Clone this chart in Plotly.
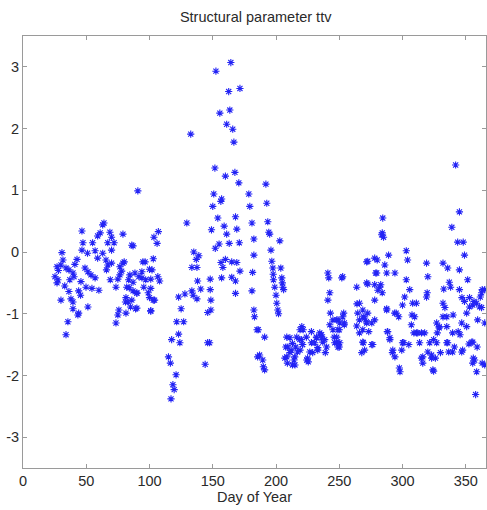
import plotly.graph_objects as go

# Day-of-year and structural parameter ttv values
days_a = [46.6, 63, 61, 59, 68.7, 70, 79, 55, 47.4, 67, 72, 86, 30.8, 46.6, 51, 57, 63, 70,
          31.6, 42.7, 59, 65.6, 67, 70, 79, 80, 26.9, 30, 34, 36.3, 39.5, 40.3, 49, 51.3,
          53.7, 57, 78, 76.6, 75, 84.5, 88.5, 25.3, 27.6, 26.9, 37, 45.8, 49.8, 54.5, 60,
          73.5, 82, 44, 36.3, 30, 37.9, 39.5, 51.3, 81.4, 83, 39.5, 44, 43.4, 75.8, 75,
          81.4, 73.5, 35.5, 34, 90.8, 87, 107, 103.5, 106, 94.8, 103, 102, 106.6, 108,
          91.6, 94, 87, 83.5, 84, 90, 99, 100, 104, 86, 81, 85, 90, 101, 89, 95.5, 101,
          100, 94, 97, 101, 87, 90, 66, 69, 76.6, 64, 96.5, 103, 101, 28, 33, 41, 45.5]
vals_a = [0.34, 0.44, 0.31, 0.26, 0.32, 0.24, 0.29, 0.15, 0.15, 0.15, 0.15, 0.11, -0.01, 0.03,
          -0.02, 0.02, -0.02, 0.03, -0.13, -0.12, -0.1, -0.13, -0.21, -0.18, -0.18, -0.16,
          -0.24, -0.21, -0.26, -0.29, -0.34, -0.4, -0.26, -0.32, -0.37, -0.42, -0.31, -0.37,
          -0.44, -0.37, -0.34, -0.4, -0.45, -0.5, -0.45, -0.48, -0.57, -0.59, -0.62, -0.57,
          -0.57, -0.63, -0.64, -0.78, -0.76, -0.81, -0.89, -0.74, -0.81, -0.92, -0.99, -1.02,
          -0.94, -1.02, -0.99, -1.15, -1.13, -1.34, 0.99, 0.1, 0.33, 0.24, 0.14, -0.16, -0.11,
          -0.29, -0.4, -0.47, -0.4, -0.42, -0.49, -0.45, -0.58, -0.66, -0.66, -0.74, -0.78,
          -0.78, -0.81, -0.89, -0.91, -0.95, -0.92, -0.57, -0.59, -0.28, -0.32, -0.45, -0.44,
          -0.63, -0.67, -0.29, -0.45, -0.24, 0.47, -0.16, -0.78, -0.96, -0.3, -0.55, -0.2, -0.7]

days_b = [132.6, 129.5, 115, 116.5, 117, 118.5, 119.5, 121, 117.5, 121.5, 123, 124, 127, 125,
          123, 128, 133.5, 134.5, 133.5, 137.5, 135, 139, 137, 138, 137.5, 140.5, 144, 146,
          147.5, 146, 148.5, 148.5, 148, 148, 149, 150, 150.8, 151.7, 152.5, 152, 154, 155,
          155.6, 156.4, 157, 156.5, 157, 158, 159, 160, 160, 161, 161, 162.6, 163, 163.5,
          164.3, 165, 165, 165.8, 166.7, 167.5, 168, 168, 168, 169, 169, 170.6, 171, 171.5,
          171.5, 178.5, 179.3, 181, 182.5, 182.5, 181.5, 181, 182.5, 183, 185, 185.5, 186,
          187, 189.5, 190, 191, 191]
vals_b = [1.91, 0.47, -1.7, -1.8, -2.38, -2.15, -2.23, -1.99, -1.42, -1.13, -1.33, -1.47, -1.13,
          -0.92, -0.73, -0.68, -0.63, -0.7, -0.25, -0.25, 0.0, -0.06, -0.12, -0.47, -0.76, -0.6,
          -1.82, -1.47, -1.47, -0.98, -0.94, -0.78, -0.61, -0.44, 0.36, 0.74, 0.94, 1.36, 2.93,
          0.06, 0.55, 0.13, 2.25, 0.82, 0.86, -0.17, -0.42, -0.25, 0.42, 1.23, -0.12, 2.07,
          0.29, 2.6, 0.14, 2.3, 3.07, -0.16, -0.41, 1.99, 1.78, 1.29, 0.57, -0.47, -0.67, 0.37,
          -0.17, 1.12, 0.15, 2.65, -0.31, 0.94, 0.74, 0.47, 0.21, -0.05, -0.33, -0.63, -0.94,
          -1.05, -1.26, -1.7, -1.26, -1.67, -1.75, -1.86, -1.91, -1.38]

days_c = [192, 192.7, 193.5, 194.3, 195, 203, 196, 196.7, 197.5, 197.8, 198, 199, 200, 200.6,
          201.4, 202, 203.8, 204.6, 205, 205.4, 206]
vals_c = [1.1, 0.79, 0.49, 0.32, 0.29, 0.18, 0.03, -0.15, -0.26, -0.36, -0.45, -0.57, -0.7,
          -0.83, -0.94, -1.0, -0.26, -0.42, -0.5, -0.57, -0.61]

days_d = [208.5, 207.8, 207, 209, 212, 213, 214.8, 215, 219, 220, 219, 221, 224, 225, 228, 228,
          229, 232, 233, 236, 237, 239, 241, 241.7, 242.5, 241, 243, 242.5, 245, 246, 249, 250,
          248, 250, 252.7, 253.5, 254, 252, 245, 248, 250.4, 252.8, 254, 249, 248, 250.4, 249,
          246.4, 240, 234.6, 236, 238.5, 232, 230.6, 233, 226.7, 224.3, 225.5, 220.4, 221.5,
          218.8, 221, 217, 214.2, 213, 211, 208.5, 211, 209.3, 215.6, 216.4]
vals_d = [-1.38, -1.54, -1.72, -1.8, -1.59, -1.48, -1.7, -1.83, -1.26, -1.42, -1.59, -1.5, -1.38,
          -1.72, -1.29, -1.47, -1.63, -1.39, -1.55, -1.34, -1.46, -1.63, -0.34, -0.42, -0.66,
          -0.78, -0.99, -1.18, -1.26, -1.38, -1.1, -1.26, -1.46, -1.54, -0.4, -0.99, -1.18,
          -0.42, -1.1, -1.1, -1.15, -1.05, -1.15, -1.26, -1.38, -1.47, -1.54, -1.47, -1.54,
          -1.31, -1.39, -1.42, -1.38, -1.47, -1.59, -1.62, -1.75, -1.78, -1.21, -1.26, -1.42,
          -1.5, -1.62, -1.75, -1.83, -1.63, -1.7, -1.39, -1.54, -1.54, -1.38]

days_e = [263.8, 272.5, 278, 280, 272.5, 264, 264.6, 263.8, 266, 269, 271.5, 269, 267.8, 275.7,
          278, 279.6, 282, 284, 284.4, 284, 285, 283.5, 287.5, 289, 288, 290, 292, 294, 295,
          298, 300, 271.7, 286, 278.8, 287.5, 271.7, 278, 282.8, 287.5, 293.8, 297, 300, 270,
          268.6, 268.6, 270, 268.6, 272.5, 271.7, 273.3, 275.7, 278, 266, 266, 276.5, 290,
          288.3, 292.3, 294, 297.5, 299.4, 280.5]
vals_e = [-0.57, -0.15, -0.1, -0.13, -0.52, -0.84, -0.99, -1.2, -1.31, -1.05, -1.13, -1.47,
          -1.63, -1.5, -0.78, -0.34, -0.57, -0.66, 0.55, 0.31, 0.24, 0.28, -0.94, -0.05, -1.29,
          -1.39, -1.63, -0.34, -0.99, -1.94, -1.47, -0.16, -0.21, -0.34, -0.34, -0.5, -0.53,
          -0.53, -0.92, -0.99, -1.05, -0.86, -1.59, -1.46, -1.26, -1.07, -0.94, -0.99, -1.15,
          -1.29, -1.15, -1.1, -0.83, -1.1, -1.5, -1.42, -1.29, -1.59, -1.7, -1.88, -1.59, -0.62]

days_f = [301.7, 303, 304, 303, 305.7, 308, 309.6, 307, 311, 315, 317.5, 316, 319, 320, 319,
          323, 324, 327, 329, 332, 332.6, 335.7, 337, 338, 339, 345, 342, 343.6, 348, 349, 345,
          351.5, 345, 332, 335, 339.6, 335.7, 339.6, 346.8, 350.7, 353, 355.5, 358.6, 361,
          359.4, 354.7, 357, 358.6, 357.8, 365, 363, 353, 311, 307.5, 319.5, 332, 333.5, 340,
          347, 349, 356.5, 361.5, 362.5, 365, 362.5, 346.8, 350.7, 344, 345.5, 341, 347.5,
          355.5, 352.5, 359, 356, 355.5, 363, 365, 335, 327, 329, 327.5, 335, 336.5, 330, 326,
          323, 324.6, 321.5, 324.6, 320, 315, 316, 313.5, 312, 309, 301, 305]
vals_f = [-0.73, 0.02, -0.13, -0.45, -0.61, -0.83, -1.05, -1.18, -1.31, -1.31, -1.31, -1.7,
          -0.18, -0.4, -0.73, -1.67, -1.91, -1.47, -1.21, -0.18, -0.6, -0.26, -0.49, -0.57, 0.4,
          0.65, 1.41, 0.16, 0.16, -0.05, -0.29, -0.45, -0.61, -1.05, -1.21, -1.31, -1.47, -1.62,
          -1.62, -0.99, -0.89, -0.86, -0.83, -0.89, -1.1, -1.46, -1.75, -1.94, -2.31, -1.83,
          -0.61, -0.74, -0.83, -1.02, -0.66, -0.83, -0.9, -1.02, -0.74, -0.8, -0.8, -0.73,
          -0.66, -0.61, -0.9, -1.15, -1.21, -1.29, -1.34, -1.54, -1.59, -1.46, -1.49, -1.54,
          -1.72, -1.8, -1.8, -1.15, -1.05, -1.15, -1.23, -1.31, -1.47, -1.62, -1.63, -1.72,
          -1.72, -1.93, -1.47, -1.42, -1.62, -1.72, -1.8, -1.47, -1.31, -1.31, -1.47, -1.5]

days = days_a + days_b + days_c + days_d + days_e + days_f
vals = vals_a + vals_b + vals_c + vals_d + vals_e + vals_f

x_ticks = [0, 50, 100, 150, 200, 250, 300, 350]
y_ticks = [-3, -2, -1, 0, 1, 2, 3]
y_tick_labels = [str(v) for v in y_ticks]   # plain hyphen minus, as in the reference

FONT = "Liberation Sans, Arial, sans-serif"
AXIS_GRAY = "#9a9a9a"
TEXT = "#2a2a2a"
BLUE = "rgb(35,35,245)"

fig = go.Figure()
fig.add_trace(go.Scatter(
    x=days, y=vals, mode="markers",
    marker=dict(symbol="asterisk-open", size=6, color=BLUE,
                line=dict(color=BLUE, width=1.1)),
    showlegend=False, hoverinfo="skip"))

axis_common = dict(showline=True, linecolor=AXIS_GRAY, linewidth=1, mirror="ticks",
                   ticks="inside", ticklen=4, tickcolor=AXIS_GRAY, tickwidth=1,
                   showgrid=False, zeroline=False, automargin=False,
                   tickfont=dict(family=FONT, size=14.5, color=TEXT))

fig.update_xaxes(range=[0, 366], tickvals=x_ticks, **axis_common,
                 title=dict(text="Day of Year", standoff=0,
                            font=dict(family=FONT, size=14.5, color=TEXT)))
fig.update_yaxes(range=[-3.5, 3.5], tickvals=y_ticks, ticktext=y_tick_labels, **axis_common)

fig.update_layout(
    width=487, height=510,
    margin=dict(l=23, r=1, t=36, b=42, autoexpand=False),
    paper_bgcolor="white", plot_bgcolor="white",
    title=dict(text="Structural parameter ttv", x=0.525, xanchor="center",
               y=1 - 17 / 510, yanchor="middle", yref="container",
               font=dict(family=FONT, size=14.5, color=TEXT)),
)

fig.write_html(
    "out.html",
    config={"displayModeBar": False, "staticPlot": True},
    post_script="document.body.style.margin='0';document.body.style.overflow='hidden';",
)
